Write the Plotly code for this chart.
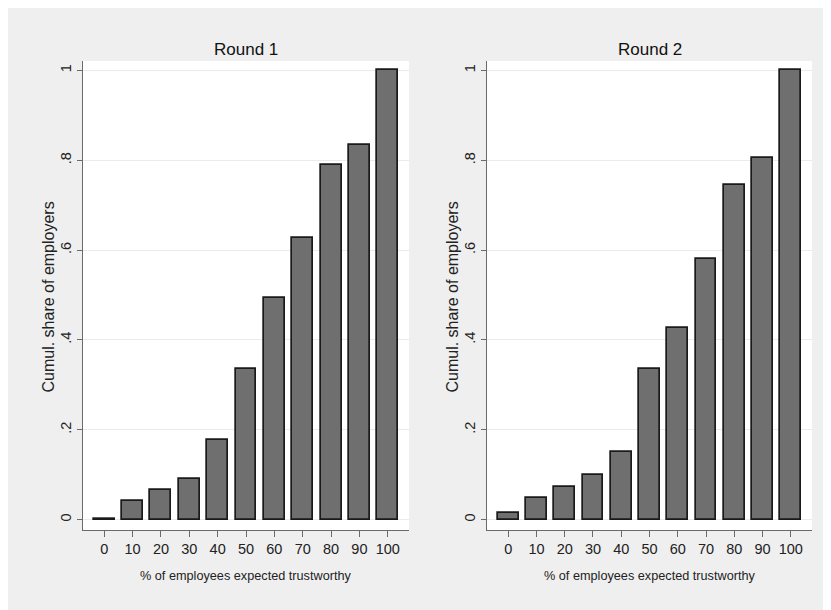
import plotly.graph_objects as go

categories = [0, 10, 20, 30, 40, 50, 60, 70, 80, 90, 100]
round1 = [0.002, 0.041, 0.065, 0.091, 0.177, 0.335, 0.494, 0.626, 0.790, 0.835, 1.0]
round2 = [0.014, 0.048, 0.072, 0.099, 0.151, 0.335, 0.427, 0.581, 0.744, 0.805, 1.0]
panel_titles = ["Round 1", "Round 2"]
ytick_vals = [0, 0.2, 0.4, 0.6, 0.8, 1.0]
ytick_text = ["0", ".2", ".4", ".6", ".8", "1"]
xtitle = "% of employees expected trustworthy"
ytitle = "Cumul. share of employers"

W, H = 831, 610
DX, DY = 8, 7  # page offset of the figure (body margin)
FONT = "Arial, Liberation Sans, sans-serif"
BAR_FILL = "#6f6f6f"
BAR_LINE = "#1a1a1a"
AXIS_COL = "#6a6a6a"
GRID_COL = "#ebebeb"
BG = "#efefef"

# page-pixel geometry of the two plot regions
panels_px = [(83, 409), (487, 812)]
top_px, bot_px = 60, 529


def px_x(p):
    return (p - DX) / W


def px_y(p):
    return 1 - (p - DY) / H


fig = go.Figure()

for i, (vals, (x0, x1)) in enumerate(zip([round1, round2], panels_px)):
    ax = "" if i == 0 else str(i + 1)
    fig.add_trace(go.Bar(
        x=categories, y=vals, width=7.4,
        marker=dict(color=BAR_FILL, line=dict(color=BAR_LINE, width=1.7)),
        xaxis="x" + ax, yaxis="y" + ax, showlegend=False,
        hoverinfo="x+y",
    ))
    common_x = dict(
        domain=[px_x(x0), px_x(x1)], range=[-7.5, 107.5],
        tickvals=categories, ticktext=[str(c) for c in categories],
        ticks="outside", ticklen=6, tickcolor=AXIS_COL, tickwidth=1,
        showline=True, linecolor=AXIS_COL, linewidth=1,
        showgrid=False, zeroline=False,
        tickfont=dict(family=FONT, size=14.5, color="#222222"),
        anchor="y" + ax, fixedrange=True,
    )
    common_y = dict(
        domain=[px_y(bot_px), px_y(top_px)], range=[-0.023, 1.021],
        tickvals=ytick_vals, ticktext=ytick_text, tickangle=-90,
        ticks="outside", ticklen=5, tickcolor=AXIS_COL, tickwidth=1,
        showline=True, linecolor=AXIS_COL, linewidth=1,
        showgrid=True, gridcolor=GRID_COL, gridwidth=1, zeroline=False,
        tickfont=dict(family=FONT, size=14.5, color="#222222"),
        anchor="x" + ax, fixedrange=True,
    )
    fig.update_layout(**{"xaxis" + ax: common_x, "yaxis" + ax: common_y})

    cx = px_x((x0 + x1) / 2)
    fig.add_annotation(text=panel_titles[i], x=cx, y=px_y(48), xref="paper", yref="paper",
                       showarrow=False, font=dict(family=FONT, size=17, color="#111111"),
                       xanchor="center", yanchor="middle")
    fig.add_annotation(text=xtitle, x=cx, y=px_y(575), xref="paper", yref="paper",
                       showarrow=False, font=dict(family=FONT, size=12.7, color="#222222"),
                       xanchor="center", yanchor="middle")
    fig.add_annotation(text=ytitle, x=px_x(x0 - 35), y=px_y((top_px + bot_px) / 2 + 2),
                       xref="paper", yref="paper", textangle=-90,
                       showarrow=False, font=dict(family=FONT, size=16, color="#222222"),
                       xanchor="center", yanchor="middle")

fig.update_layout(
    width=W, height=H, margin=dict(l=0, r=0, t=0, b=0),
    paper_bgcolor=BG, plot_bgcolor="white",
    bargap=0, showlegend=False,
)

fig.write_html("out.html", config={"displayModeBar": False})
